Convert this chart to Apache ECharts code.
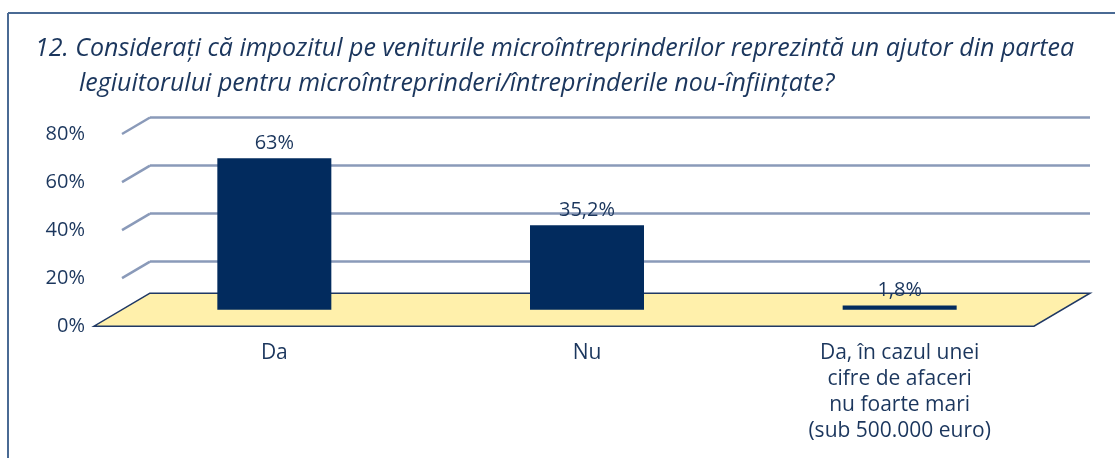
<!DOCTYPE html>
<html>
<head>
<meta charset="utf-8">
<script src="https://cdn.jsdelivr.net/npm/echarts@6/dist/echarts.min.js"></script>
<style>
  html, body { margin: 0; padding: 0; background: #fff; }
  #main { width: 1115px; height: 458px; }
</style>
</head>
<body>
<div id="main"></div>
<script>
// date din grafic
const titleLine1 = '12. Considerați că impozitul pe veniturile microîntreprinderilor reprezintă un ajutor din partea';
const titleLine2 = 'legiuitorului pentru microîntreprinderi/întreprinderile nou-înființate?';
const categories = ['Da', 'Nu', 'Da, în cazul unei\ncifre de afaceri\nnu foarte mari\n(sub 500.000 euro)'];
const values = [63, 35.2, 1.8];
const valueLabels = ['63%', '35,2%', '1,8%'];
const yMin = 0, yMax = 80, yStep = 20;

const textColor = '#1B365D';
const barColor = '#022B5E';
const gridColor = '#8A9AB9';
const fontFamily = '"Open Sans", Lato, sans-serif';

// "adancimea" podelei 3D (front -> back)
const depth = { x: 56, y: -33 };
const W = 1115, H = 458;
const wall = { left: 150, right: 25, top: 117.5, bottom: 148.3 };

const chart = echarts.init(document.getElementById('main'), null, { renderer: 'canvas' });

const titleStyle = { fontFamily: fontFamily, fontStyle: 'italic', fontWeight: 'normal', fontSize: 25, color: textColor };
const option = {
  backgroundColor: '#fff',
  animation: false,
  title: [
    { text: titleLine1, left: 35, top: 36, padding: 0, textStyle: titleStyle },
    { text: titleLine2, left: 79, top: 71, padding: 0, textStyle: titleStyle }
  ],
  grid: [
    { left: 118, right: 59, top: wall.top, bottom: wall.bottom },
    { left: wall.left, right: wall.right, top: wall.top, bottom: wall.bottom },
    { left: wall.left - depth.x, right: wall.right, top: wall.top - depth.y / 2, bottom: wall.bottom + depth.y / 2 }
  ],
  xAxis: [
    { type: 'category', gridIndex: 0, data: categories,
      axisLine: { show: false }, axisTick: { show: false },
      axisLabel: { margin: 30, fontFamily: fontFamily, fontSize: 21, lineHeight: 26, color: textColor, interval: 0 } },
    { type: 'category', gridIndex: 1, data: categories, show: false },
    { type: 'category', gridIndex: 2, data: categories, show: false }
  ],
  yAxis: [
    { type: 'value', gridIndex: 0, min: yMin, max: yMax, interval: yStep, show: false },
    { type: 'value', gridIndex: 1, min: yMin, max: yMax, interval: yStep,
      axisLine: { show: false }, axisTick: { show: false }, axisLabel: { show: false },
      splitLine: { show: true, showMinLine: false, lineStyle: { color: gridColor, width: 2.5 } } },
    { type: 'value', gridIndex: 2, min: yMin, max: yMax, interval: yStep,
      axisLine: { show: false }, axisTick: { show: false }, splitLine: { show: false },
      axisLabel: { margin: 9, formatter: '{value}%', fontFamily: fontFamily, fontSize: 20, color: textColor } }
  ],
  series: [{
    type: 'bar',
    xAxisIndex: 0,
    yAxisIndex: 0,
    data: values,
    barWidth: 114,
    itemStyle: { color: barColor },
    z: 3,
    label: {
      show: true, position: 'top', distance: 5,
      fontFamily: fontFamily, fontSize: 20, color: textColor,
      formatter: p => valueLabels[p.dataIndex]
    }
  }]
};
chart.setOption(option);

// podea + linii diagonale, calculate din axa
const gx0 = wall.left, gx1 = W - wall.right;
const y0 = chart.convertToPixel({ yAxisIndex: 1 }, yMin);
const els = [];
els.push({
  type: 'polygon', z: 1, silent: true,
  shape: { points: [
    [gx0, y0 + depth.y / 2], [gx0 - depth.x, y0 - depth.y / 2],
    [gx1 - depth.x, y0 - depth.y / 2], [gx1, y0 + depth.y / 2]
  ] },
  style: { fill: '#FFF0AB', stroke: '#1F3864', lineWidth: 1.5 }
});
for (let v = yMin + yStep; v <= yMax; v += yStep) {
  const yb = chart.convertToPixel({ yAxisIndex: 1 }, v);
  els.push({
    type: 'line', z: 1, silent: true,
    shape: { x1: gx0 - depth.x / 2, y1: yb - depth.y / 2, x2: gx0, y2: yb },
    style: { stroke: gridColor, lineWidth: 2.5 }
  });
}
// chenar
els.push({ type: 'line', silent: true, shape: { x1: 8, y1: 13, x2: W, y2: 13 }, style: { stroke: '#4A6A94', lineWidth: 2 } });
els.push({ type: 'line', silent: true, shape: { x1: 8, y1: 13, x2: 8, y2: H }, style: { stroke: '#4A6A94', lineWidth: 2 } });
chart.setOption({ graphic: { elements: els } });
</script>
</body>
</html>
